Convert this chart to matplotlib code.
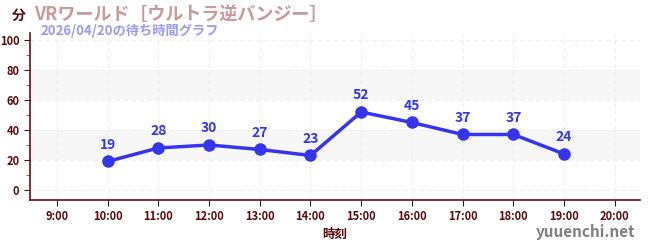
import matplotlib
matplotlib.use("Agg")
from matplotlib import pyplot as plt
import numpy as np

plt.rcParams['font.family'] = ['Noto Sans CJK JP', 'DejaVu Sans']

hours = [10, 11, 12, 13, 14, 15, 16, 17, 18, 19]
waits = [19, 28, 30, 27, 23, 52, 45, 37, 37, 24]
tick_hours = list(range(9, 21))
tick_labels = ["%d:00" % h for h in tick_hours]
title = "VRワールド［ウルトラ逆バンジー］"
subtitle = "2026/04/20の待ち時間グラフ"

dark = "#5a0a0a"
blue = "#3535f0"

fig = plt.figure(figsize=(6.5, 2.5), dpi=100)
ax = fig.add_axes([0.046, 0.2, 0.939, 0.668])

ax.set_xlim(8.47, 20.5)
ax.set_ylim(-6.7, 104.7)

# grey bands
for lo, hi in [(20, 40), (60, 80)]:
    ax.axhspan(lo, hi, color="#f7f7f7", zorder=0, lw=0)

ax.set_xticks(tick_hours)
ax.set_xticklabels(tick_labels)
ax.set_yticks(range(0, 101, 20))
ax.set_yticks(range(10, 100, 20), minor=True)
ax.grid(True, which="major", color="#eeeeee", ls=(0, (4, 3)), lw=0.8, zorder=0)

ax.plot(hours, waits, color=blue, lw=2.5, marker="o", ms=8, zorder=3)
for h, w in zip(hours, waits):
    ax.annotate(str(w), (h, w), xytext=(0, 7), textcoords="offset points",
                ha="center", va="bottom", color=blue, fontsize=10, fontweight="bold")

for s in ["top", "right"]:
    ax.spines[s].set_visible(False)
for s in ["left", "bottom"]:
    ax.spines[s].set_color("#6a1010")
    ax.spines[s].set_linewidth(1.2)

ax.tick_params(axis="both", which="major", colors="#222222", labelsize=8, length=4)
ax.tick_params(axis="y", which="minor", colors="#dd2222", length=3)
for lab in ax.get_xticklabels() + ax.get_yticklabels():
    lab.set_fontweight("bold")
    lab.set_color(dark)

ax.set_xlabel("時刻", color=dark, fontsize=9, fontweight="bold", labelpad=3)

fig.text(0.018, 0.935, "分", color=dark, fontsize=10, fontweight="bold", va="center")
fig.text(0.052, 0.94, title, color="#c89a9a", fontsize=13, fontweight="bold", va="center")
fig.text(0.062, 0.875, subtitle, color="#9a9af0", fontsize=9.5, fontweight="bold", va="center")
fig.text(0.977, 0.07, "yuuenchi.net", color="#808080", fontsize=11, fontweight="bold",
         ha="right", va="center")

fig.savefig("out.png", dpi=100)
